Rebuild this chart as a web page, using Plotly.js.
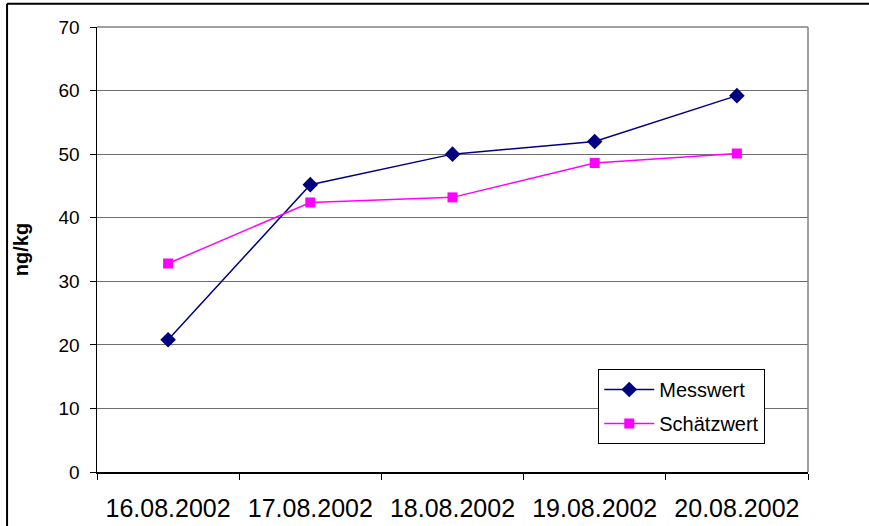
<!DOCTYPE html>
<html>
<head>
<meta charset="utf-8">
<script src="https://cdn.plot.ly/plotly-3.0.1.min.js"></script>
<style>
html,body{margin:0;padding:0;background:#fff;}
#chart{width:869px;height:526px;}
</style>
</head>
<body>
<div id="chart"></div>
<script>
const categories = ["16.08.2002", "17.08.2002", "18.08.2002", "19.08.2002", "20.08.2002"];
const messwert = [20.8, 45.2, 50.0, 52.0, 59.2];
const schaetzwert = [32.8, 42.4, 43.2, 48.6, 50.1];
const yTicks = [0, 10, 20, 30, 40, 50, 60, 70];

const traces = [
  {
    x: categories, y: messwert, name: "Messwert", type: "scatter", mode: "lines+markers",
    legendgroup: "a",
    line: {color: "#000080", width: 1.5},
    marker: {symbol: "diamond", size: 12, color: "#000080"}
  },
  {
    x: categories, y: schaetzwert, name: "Schätzwert", type: "scatter", mode: "lines+markers",
    legendgroup: "b",
    line: {color: "#FF00FF", width: 1.5},
    marker: {symbol: "square", size: 10, color: "#FF00FF"}
  }
];

const layout = {
  width: 869, height: 526,
  margin: {l: 97, r: 61, t: 27, b: 54},
  paper_bgcolor: "#fff", plot_bgcolor: "#fff",
  font: {family: "Liberation Sans, Arial, sans-serif", color: "#000"},
  showlegend: true,
  legend: {
    x: 0.705, y: 0.2315, xanchor: "left", yanchor: "top",
    bgcolor: "#fff", bordercolor: "#000", borderwidth: 1,
    font: {size: 20, color: "#000"}, itemwidth: 50,
    traceorder: "grouped", tracegroupgap: 5
  },
  xaxis: {
    type: "category", tickson: "boundaries", ticks: "outside", ticklen: 6, tickcolor: "#000",
    showgrid: false, showline: true, linecolor: "#000", linewidth: 1.5,
    mirror: false, tickfont: {size: 25}, ticklabelstandoff: 13,
    range: [-0.5, 4.5], zeroline: false
  },
  yaxis: {
    range: [0, 70], tickvals: yTicks, ticks: "outside", ticklen: 6, tickcolor: "#000",
    showgrid: true, gridcolor: "#6e6e6e", gridwidth: 1,
    showline: true, linecolor: "#000", linewidth: 1.5, zeroline: false,
    tickfont: {size: 19}, ticklabelstandoff: 6,
    title: {text: "ng/kg", font: {size: 20, weight: "bold"}, standoff: 24}
  },
  shapes: [
    {type: "line", xref: "paper", yref: "paper", x0: 0, x1: 1, y0: 1, y1: 1, line: {color: "#808080", width: 1.5}},
    {type: "line", xref: "paper", yref: "paper", x0: 1, x1: 1, y0: 0, y1: 1, line: {color: "#808080", width: 1.5}},
    {type: "line", xref: "paper", yref: "paper", x0: -0.1265, x1: 1.1, y0: 1.052, y1: 1.052, line: {color: "#000", width: 2}},
    {type: "line", xref: "paper", yref: "paper", x0: -0.1265, x1: -0.1265, y0: -0.2, y1: 1.052, line: {color: "#000", width: 2}}
  ]
};

Plotly.newPlot("chart", traces, layout, {displayModeBar: false, staticPlot: true});
</script>
</body>
</html>
